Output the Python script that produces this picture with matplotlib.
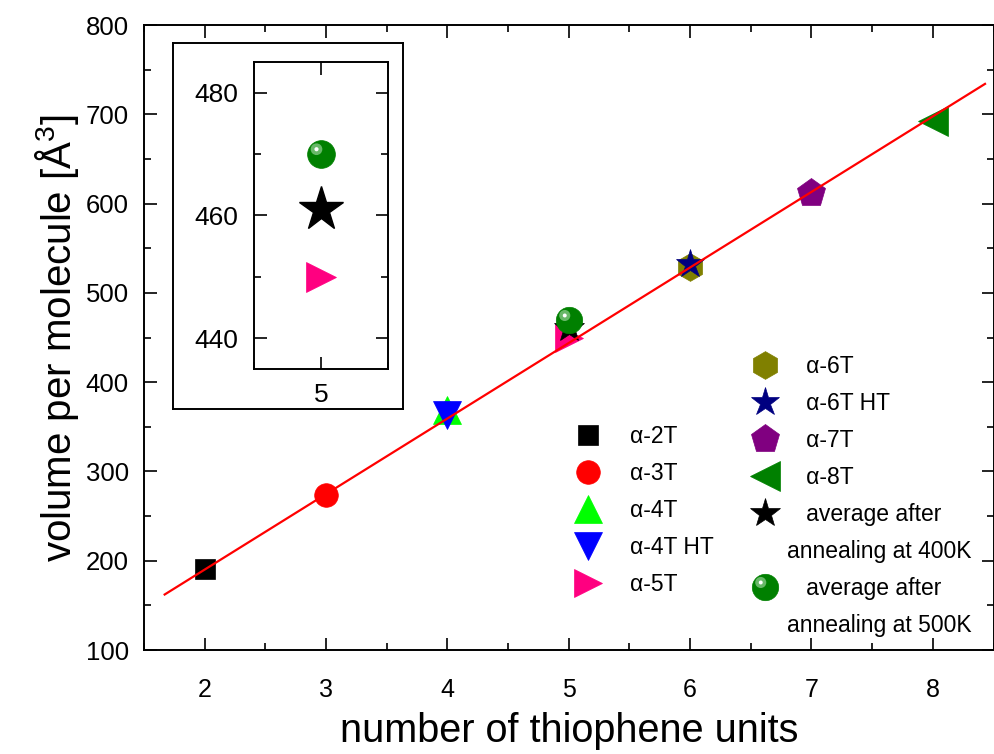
import numpy as np
import matplotlib
matplotlib.use("Agg")
import matplotlib.pyplot as plt
from matplotlib.path import Path
from matplotlib.lines import Line2D
from matplotlib.ticker import MultipleLocator
from matplotlib.legend_handler import HandlerTuple

plt.rcParams['font.family'] = ['Liberation Sans', 'DejaVu Sans']
plt.rcParams['mathtext.fontset'] = 'custom'
plt.rcParams['mathtext.rm'] = 'Liberation Sans'
plt.rcParams['mathtext.it'] = 'Liberation Sans:italic'

# volume per molecule (A^3) vs number of thiophene rings
n_2T, v_2T = [2], [191]
n_3T, v_3T = [3], [274]
n_4T, v_4T = [4], [369]
n_4T_HT, v_4T_HT = [4], [363]
n_5T, v_5T = [5], [450]
n_6T, v_6T = [6], [529]
n_6T_HT, v_6T_HT = [6], [532]
n_7T, v_7T = [7], [612]
n_8T, v_8T = [8], [692]
n_400K, v_400K = [5], [461]
n_500K, v_500K = [5], [470]

# linear fit through all phases
fit_slope = 84.6
fit_intercept = 20.9
fit_range = [1.67, 8.43]

# glossy highlight for the "sphere" symbol (marker units, radius 1 = full symbol)
def _glint(radius):
    frame = Path([(-1, -1), (1, 1)], [Path.MOVETO, Path.MOVETO])
    spot = Path.circle(center=(-0.36, 0.38), radius=radius)
    return Path.make_compound_path(frame, spot)

halo_marker = _glint(0.42)
core_marker = _glint(0.15)

series = [
    (n_2T, v_2T, 's', 15, 'black', 'α-2T'),
    (n_3T, v_3T, 'o', 17, '#ff0000', 'α-3T'),
    (n_4T, v_4T, '^', 20, '#00ff00', 'α-4T'),
    (n_4T_HT, v_4T_HT, 'v', 20, '#0000ff', 'α-4T HT'),
    (n_5T, v_5T, '>', 20, '#ff0080', 'α-5T'),
    (n_6T, v_6T, 'h', 20, '#808000', 'α-6T'),
    (n_6T_HT, v_6T_HT, '*', 21, '#000080', 'α-6T HT'),
    (n_7T, v_7T, 'p', 21, '#800080', 'α-7T'),
    (n_8T, v_8T, '<', 21, '#008000', 'α-8T'),
    (n_400K, v_400K, '*', 22, 'black', 'average after'),
]

fig = plt.figure(figsize=(9.94, 7.54), dpi=100)
ax = fig.add_axes([0.1449, 0.1379, 0.8546, 0.8289])

handles = []
for xs, ys, mk, ms, col, lab in series:
    h, = ax.plot(xs, ys, ls='none', marker=mk, ms=ms, color=col, mec=col, mew=0.5)
    handles.append((h, lab))

def sphere(axis, xs, ys, ms):
    body, = axis.plot(xs, ys, ls='none', marker='o', ms=ms, color='#008000', mec='#008000', mew=0.5)
    halo, = axis.plot(xs, ys, ls='none', marker=halo_marker, ms=ms, color='#8ccc8c', mew=0, alpha=0.75)
    core, = axis.plot(xs, ys, ls='none', marker=core_marker, ms=ms, color='white', mew=0)
    return (body, halo, core)

sph = sphere(ax, n_500K, v_500K, 19)

xf = np.array(fit_range)
ax.plot(xf, fit_intercept + fit_slope * xf, color='red', lw=1.6, zorder=5)

ax.set_xlim(1.5, 8.5)
ax.set_ylim(100, 800)
ax.xaxis.set_major_locator(MultipleLocator(1))
ax.xaxis.set_minor_locator(MultipleLocator(0.5))
ax.yaxis.set_major_locator(MultipleLocator(100))
ax.yaxis.set_minor_locator(MultipleLocator(50))
ax.tick_params(which='both', direction='in', top=True, right=True, width=1.2)
ax.tick_params(which='major', length=9)
ax.tick_params(which='minor', length=5)
ax.tick_params(axis='x', labelsize=18, pad=20)
ax.tick_params(axis='y', labelsize=18.5, pad=11)
for sp in ax.spines.values():
    sp.set_linewidth(1.4)

ax.set_xlabel('number of thiophene units', fontsize=28.5, labelpad=7)
ax.set_ylabel(r'volume per molecule [Å$^{\rm 3}$]', fontsize=29, labelpad=3)

blank = Line2D([], [], ls='none')

leg1 = ax.legend([h for h, _ in handles[:5]], [l for _, l in handles[:5]],
                 loc='upper left', bbox_to_anchor=(0.5088, 0.3600), frameon=False,
                 fontsize=16.5, handlelength=1.0, handletextpad=1.34,
                 labelspacing=0.61, borderpad=0, borderaxespad=0)
ax.add_artist(leg1)

pad = '   '
h2 = [h for h, _ in handles[5:]] + [blank, sph, blank]
l2 = [pad + l for _, l in handles[5:]] + ['annealing at 400K', pad + 'average after', 'annealing at 500K']
ax.legend(h2, l2, loc='upper left', bbox_to_anchor=(0.717, 0.4720), frameon=False,
          fontsize=16.5, handlelength=1.0, handletextpad=0.46,
          labelspacing=0.61, borderpad=0, borderaxespad=0,
          handler_map={tuple: HandlerTuple(ndivide=1, pad=0)})

# zoom on the 5T point: outer frame, then inner axes
frame = fig.add_axes([0.1740, 0.4576, 0.2314, 0.4854])
frame.set_xticks([])
frame.set_yticks([])
for sp in frame.spines.values():
    sp.set_linewidth(1.4)
frame.set_zorder(2)

axin = fig.add_axes([0.2555, 0.5106, 0.1348, 0.4072])
axin.set_zorder(3)
axin.plot(n_5T, v_5T, ls='none', marker='>', ms=21, color='#ff0080', mec='#ff0080', mew=0.5)
axin.plot(n_400K, v_400K, ls='none', marker='*', ms=33, color='black')
sphere(axin, n_500K, v_500K, 20)
axin.set_xlim(4.5, 5.5)
axin.set_ylim(435, 485)
axin.set_xticks([5])
axin.set_xticks([4.5, 5.5], minor=True)
axin.yaxis.set_major_locator(MultipleLocator(20))
axin.yaxis.set_minor_locator(MultipleLocator(10))
axin.tick_params(which='both', direction='in', top=True, right=True, width=1.2)
axin.tick_params(which='major', length=9)
axin.tick_params(which='minor', length=5)
axin.tick_params(axis='x', labelsize=19, pad=10)
axin.tick_params(axis='y', labelsize=19, pad=11)
for sp in axin.spines.values():
    sp.set_linewidth(1.4)

fig.savefig('out.png', dpi=100)
